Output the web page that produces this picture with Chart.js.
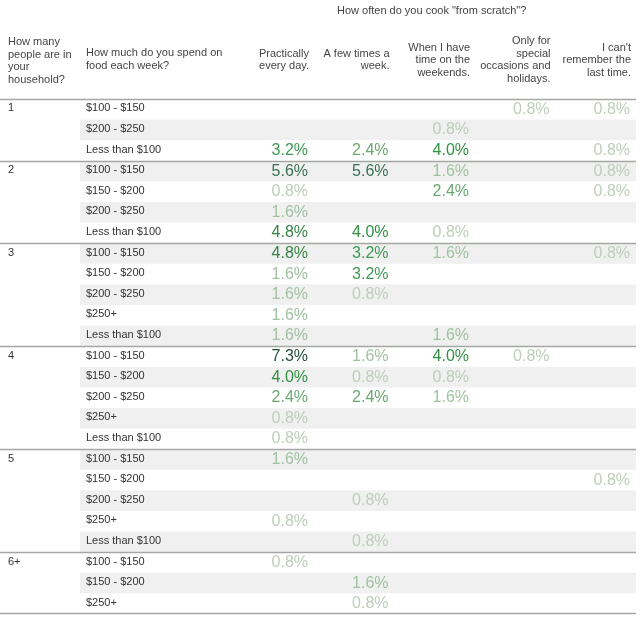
<!DOCTYPE html>
<html lang="en">
<head>
    <meta charset="UTF-8" />
    <title>How often do you cook from scratch</title>
    <script src="https://cdn.jsdelivr.net/npm/chart.js@4.4.1/dist/chart.umd.min.js"></script>
    <style>
        html, body { margin: 0; padding: 0; background: #fff; }
        #wrap { width: 640px; height: 617px; }
    </style>
</head>
<body>
    <div id="wrap"><canvas id="cookChart" width="640" height="617"></canvas></div>

    <script>
        // Data
        const title = 'How often do you cook "from scratch"?';
        const householdHeader = ['How many', 'people are in', 'your', 'household?'];
        const spendHeader = ['How much do you spend on', 'food each week?'];
        const columns = [
            ['Practically', 'every day.'],
            ['A few times a', 'week.'],
            ['When I have', 'time on the', 'weekends.'],
            ['Only for', 'special', 'occasions and', 'holidays.'],
            ['I can\'t', 'remember the', 'last time.']
        ];
        const households = ['1', '1', '1', '2', '2', '2', '2', '3', '3', '3', '3', '3',
            '4', '4', '4', '4', '4', '5', '5', '5', '5', '5', '6+', '6+', '6+'];
        const spend = [
            '$100 - $150', '$200 - $250', 'Less than $100',
            '$100 - $150', '$150 - $200', '$200 - $250', 'Less than $100',
            '$100 - $150', '$150 - $200', '$200 - $250', '$250+', 'Less than $100',
            '$100 - $150', '$150 - $200', '$200 - $250', '$250+', 'Less than $100',
            '$100 - $150', '$150 - $200', '$200 - $250', '$250+', 'Less than $100',
            '$100 - $150', '$150 - $200', '$250+'
        ];
        const everyDay = [null, null, 3.2, 5.6, 0.8, 1.6, 4.8, 4.8, 1.6, 1.6, 1.6, 1.6,
            7.3, 4.0, 2.4, 0.8, 0.8, 1.6, null, null, 0.8, null, 0.8, null, null];
        const fewTimes = [null, null, 2.4, 5.6, null, null, 4.0, 3.2, 3.2, 0.8, null, null,
            1.6, 0.8, 2.4, null, null, null, null, 0.8, null, 0.8, null, 1.6, 0.8];
        const weekends = [null, 0.8, 4.0, 1.6, 2.4, null, 0.8, 1.6, null, null, null, 1.6,
            4.0, 0.8, 1.6, null, null, null, null, null, null, null, null, null, null];
        const special = [0.8, null, null, null, null, null, null, null, null, null, null, null,
            0.8, null, null, null, null, null, null, null, null, null, null, null, null];
        const cantRemember = [0.8, null, 0.8, 0.8, 0.8, null, null, 0.8, null, null, null, null,
            null, null, null, null, null, null, 0.8, null, null, null, null, null, null];
        const series = [everyDay, fewTimes, weekends, special, cantRemember];

        const FONT = '"Liberation Sans", Arial, sans-serif';

        // light grey-green -> green -> dark green
        const colorStops = [
            [0.8, [190, 206, 186]], [1.6, [160, 194, 160]], [2.4, [108, 168, 116]],
            [3.2, [62, 154, 84]], [4.0, [48, 146, 64]], [4.8, [56, 132, 70]],
            [5.6, [58, 112, 90]], [7.3, [36, 78, 56]]
        ];
        function valueColor(v) {
            if (v <= colorStops[0][0]) return 'rgb(' + colorStops[0][1].join(',') + ')';
            for (let i = 1; i < colorStops.length; i++) {
                const [v1, c1] = colorStops[i];
                const [v0, c0] = colorStops[i - 1];
                if (v <= v1) {
                    const t = (v - v0) / (v1 - v0);
                    const c = c0.map((a, k) => Math.round(a + (c1[k] - a) * t));
                    return 'rgb(' + c.join(',') + ')';
                }
            }
            return 'rgb(' + colorStops[colorStops.length - 1][1].join(',') + ')';
        }

        const datasets = series.map((vals, col) => ({
            label: columns[col].join(' '),
            data: vals.map((v, row) => v === null ? null : { x: col, y: row, v: v }).filter(p => p),
            pointRadius: 0,
            pointHoverRadius: 0
        }));

        const tablePlugin = {
            id: 'tablePlugin',
            beforeDatasetsDraw(chart) {
                const ctx = chart.ctx;
                const y = chart.scales.y;
                const x = chart.scales.x;
                const half = (x.getPixelForValue(1) - x.getPixelForValue(0)) / 2;
                ctx.save();
                // alternating row bands
                ctx.fillStyle = '#f0f0f0';
                spend.forEach((s, i) => {
                    if (i % 2 === 1) {
                        const top = y.getPixelForValue(i - 0.5);
                        const bot = y.getPixelForValue(i + 0.5);
                        ctx.fillRect(80, top, 556, bot - top);
                    }
                });
                // group separator lines
                ctx.strokeStyle = '#a3a8a3';
                ctx.lineWidth = 1.5;
                households.forEach((h, i) => {
                    if (i === 0 || households[i - 1] !== h) {
                        const py = Math.round(y.getPixelForValue(i - 0.5)) + 0.5;
                        ctx.beginPath(); ctx.moveTo(0, py); ctx.lineTo(636, py); ctx.stroke();
                    }
                });
                const pb = Math.round(y.getPixelForValue(spend.length - 0.5)) - 0.5;
                ctx.beginPath(); ctx.moveTo(0, pb); ctx.lineTo(636, pb); ctx.stroke();

                // row labels
                ctx.fillStyle = '#333';
                ctx.font = '11px ' + FONT;
                ctx.textAlign = 'left';
                ctx.textBaseline = 'middle';
                spend.forEach((s, i) => {
                    const py = y.getPixelForValue(i) - 1;
                    if (i === 0 || households[i - 1] !== households[i]) ctx.fillText(households[i], 8, py);
                    ctx.fillText(s, 86, py);
                });

                // headers
                ctx.fillStyle = '#444';
                ctx.fillText(title, 337, 11);
                const lh = 12.5;
                const mid = 60;
                householdHeader.forEach((t, k) => ctx.fillText(t, 8, 42 + k * lh));
                spendHeader.forEach((t, k) => ctx.fillText(t, 86, 53 + k * lh));
                ctx.textAlign = 'right';
                columns.forEach((lines, c) => {
                    const right = x.getPixelForValue(c) + half - 0.5;
                    const start = mid - (lines.length - 1) * lh / 2;
                    lines.forEach((t, k) => ctx.fillText(t, right, start + k * lh));
                });
                ctx.restore();
            },
            afterDatasetsDraw(chart) {
                const ctx = chart.ctx;
                const x = chart.scales.x;
                const half = (x.getPixelForValue(1) - x.getPixelForValue(0)) / 2;
                ctx.save();
                ctx.font = '16px ' + FONT;
                ctx.textAlign = 'right';
                ctx.textBaseline = 'middle';
                chart.data.datasets.forEach((ds, di) => {
                    const meta = chart.getDatasetMeta(di);
                    meta.data.forEach((pt, i) => {
                        const v = ds.data[i].v;
                        ctx.fillStyle = valueColor(v);
                        ctx.fillText(v.toFixed(1) + '%', pt.x + half - 1.5, pt.y);
                    });
                });
                ctx.restore();
            }
        };

        new Chart(document.getElementById('cookChart').getContext('2d'), {
            type: 'scatter',
            data: { datasets: datasets },
            options: {
                responsive: false,
                animation: false,
                devicePixelRatio: 1,
                layout: { padding: { left: 229, right: 8.5, top: 99, bottom: 3 } },
                plugins: { legend: { display: false }, tooltip: { enabled: false } },
                scales: {
                    x: { type: 'linear', min: -0.5, max: 4.5, display: false },
                    y: { type: 'linear', min: -0.5, max: 24.5, reverse: true, display: false }
                }
            },
            plugins: [tablePlugin]
        });
    </script>
</body>
</html>
